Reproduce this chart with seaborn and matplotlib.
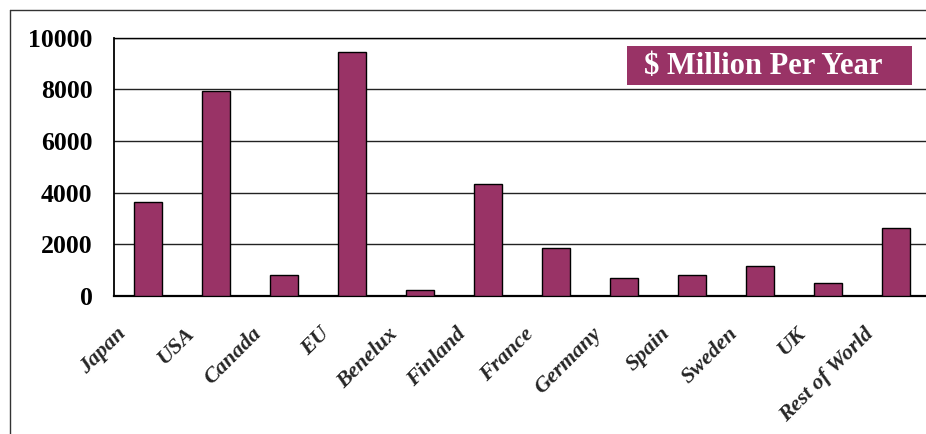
import matplotlib
matplotlib.use("Agg")
import matplotlib.pyplot as plt
import matplotlib.transforms as mtransforms
from matplotlib.patches import Rectangle
from matplotlib.lines import Line2D
import seaborn as sns
import pandas as pd

categories = ["Japan", "USA", "Canada", "EU", "Benelux", "Finland", "France",
              "Germany", "Spain", "Sweden", "UK", "Rest of World"]
values = [3620, 7920, 820, 9450, 250, 4350, 1850, 700, 800, 1150, 500, 2650]
yticks = [0, 2000, 4000, 6000, 8000, 10000]
legend_text = "$ Million Per Year"

BAR = "#993366"
W, H = 926, 434
DPI = 100

sns.set_style("white")
plt.rcParams["font.family"] = ["Liberation Serif", "DejaVu Serif"]

fig = plt.figure(figsize=(W / DPI, H / DPI), dpi=DPI)
fig.patch.set_facecolor("white")

# axes in pixel coords: left 114, right 930, top 37.7, bottom 296
left, right, top, bottom = 114, 930, 37.7, 296
ax = fig.add_axes([left / W, (H - bottom) / H, (right - left) / W, (bottom - top) / H])

df = pd.DataFrame({"cat": categories, "val": values})
sns.barplot(data=df, x="cat", y="val", color=BAR, saturation=1, width=0.41,
            edgecolor="black", linewidth=1.0, ax=ax, zorder=3)

ax.set_xlim(-0.5, len(categories) - 0.5)
ax.set_ylim(0, 10000)
ax.set_xlabel("")
ax.set_ylabel("")

ax.set_yticks(yticks)
ax.set_yticklabels([str(v) for v in yticks], fontsize=18.5, fontweight="bold")
ax.yaxis.grid(True, color="#222222", linewidth=1.0, zorder=0)
ax.set_axisbelow(True)

ax.tick_params(axis="y", direction="out", length=6.5, width=0.9, color="#f2f25a",
               pad=9, labelcolor="black")

# category labels
ax.set_xticks(range(len(categories)))
ax.set_xticklabels(categories, fontsize=16, fontweight="bold", fontstyle="italic",
                   rotation=45, ha="right", va="top")
ax.tick_params(axis="x", which="major", length=0, pad=20)
offset = mtransforms.ScaledTranslation(-18 / DPI, 0, fig.dpi_scale_trans)
for lab in ax.get_xticklabels():
    lab.set_transform(lab.get_transform() + offset)

# minor ticks between categories (yellow)
ax.set_xticks([i - 0.5 for i in range(len(categories) + 1)], minor=True)
ax.tick_params(axis="x", which="minor", direction="out", length=5, width=0.9,
               color="#f2f25a")

for s in ["left", "bottom", "top"]:
    ax.spines[s].set_visible(True)
    ax.spines[s].set_color("black")
ax.spines["left"].set_linewidth(1.3)
ax.spines["bottom"].set_linewidth(1.6)
ax.spines["top"].set_linewidth(1.0)
ax.spines["right"].set_visible(False)

# legend-like label box
bx0, bx1, by0, by1 = 627, 912, 46, 85
fig.patches.append(Rectangle((bx0 / W, (H - by1) / H), (bx1 - bx0) / W, (by1 - by0) / H,
                             transform=fig.transFigure, facecolor=BAR, edgecolor="none",
                             zorder=5))
fig.text(763 / W, (H - 66) / H, legend_text, color="white", fontsize=22,
         fontweight="bold", ha="center", va="center", zorder=6)

# outer frame (top and left lines)
fig.add_artist(Line2D([9.5 / W, 1.0], [(H - 10) / H, (H - 10) / H], color="#333333",
                      linewidth=1.0, transform=fig.transFigure))
fig.add_artist(Line2D([9.5 / W, 9.5 / W], [(H - 10) / H, 0], color="#333333",
                      linewidth=1.0, transform=fig.transFigure))

fig.savefig("out.png", dpi=DPI)
